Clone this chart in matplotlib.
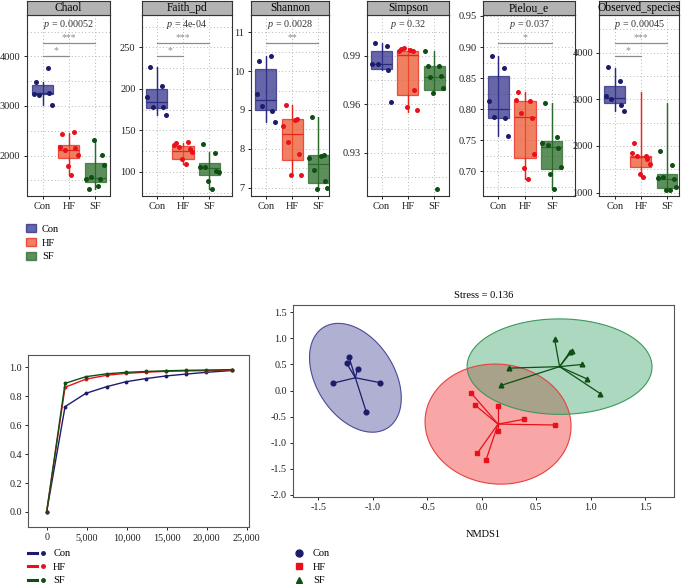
import numpy as np
import matplotlib
matplotlib.use("Agg")
import matplotlib.pyplot as plt
from matplotlib.lines import Line2D
from matplotlib.patches import Patch, Polygon
from matplotlib.legend_handler import HandlerTuple
from matplotlib.ticker import FuncFormatter

plt.rcParams['font.family'] = ['Liberation Serif', 'DejaVu Serif']
plt.rcParams['mathtext.fontset'] = 'custom'
plt.rcParams['mathtext.rm'] = 'Liberation Serif'
plt.rcParams['mathtext.it'] = 'Liberation Serif:italic'

# ---------------- data ----------------
groups = ["Con", "HF", "SF"]
metrics = ["Chaol", "Faith_pd", "Shannon", "Simpson", "Pielou_e", "Observed_species"]

# alpha diversity values per group (Con, HF, SF)
alpha_points = {
    "Chaol": [[3480, 3767, 3233, 3220, 3253, 3020],
              [2433, 2467, 2167, 2120, 2153, 2007, 1787, 1607],
              [1320, 1533, 1520, 1567, 2020, 1820, 2320, 1387]],
    "Faith_pd": [[226, 204, 190, 178, 178, 169],
                 [135, 136, 132, 130, 128, 124, 115, 109],
                 [134, 123, 106, 106, 101, 100, 89, 80]],
    "Shannon": [[10.27, 10.38, 9.42, 9.10, 8.97, 8.70],
                [9.12, 8.78, 8.60, 8.18, 7.87, 7.33, 7.33, 8.75],
                [8.82, 7.85, 7.76, 7.47, 7.18, 7.00, 6.96, 7.83]],
    "Simpson": [[0.9978, 0.9961, 0.9849, 0.9849, 0.9814, 0.9614],
                [0.9940, 0.9930, 0.9927, 0.9947, 0.9687, 0.9564, 0.9585, 0.9935],
                [0.9835, 0.9835, 0.9927, 0.9767, 0.9776, 0.9700, 0.9673, 0.9075]],
    "Pielou_e": [[0.885, 0.867, 0.813, 0.788, 0.785, 0.757],
                 [0.828, 0.813, 0.815, 0.794, 0.785, 0.727, 0.705, 0.688],
                 [0.810, 0.755, 0.745, 0.742, 0.737, 0.707, 0.695, 0.671]],
    "Observed_species": [[3680, 3396, 3060, 3000, 2880, 2751],
                         [2057, 1787, 1844, 1787, 1716, 1610, 1396, 1346],
                         [1886, 1587, 1317, 1338, 1303, 1125, 1068, 1054]],
}
# box statistics: q1, median, q3, lower whisker, upper whisker
box_stats = {
    "Chaol": [[3233, 3270, 3413, 3020, 3480], [1953, 2120, 2220, 1607, 2453], [1467, 1540, 1853, 1320, 2320]],
    "Faith_pd": [[177, 184.5, 200, 169, 226], [115, 125, 131, 109, 135], [96, 105, 111, 80, 124]],
    "Shannon": [[9.0, 9.25, 10.06, 8.7, 10.38], [7.71, 8.39, 8.76, 7.33, 9.12], [7.13, 7.61, 7.84, 6.96, 8.82]],
    "Simpson": [[0.9818, 0.9849, 0.993, 0.9814, 0.9978], [0.9658, 0.9906, 0.9927, 0.9555, 0.9947],
                [0.969, 0.977, 0.9835, 0.9673, 0.9927]],
    "Pielou_e": [[0.786, 0.80, 0.853, 0.757, 0.885], [0.721, 0.787, 0.813, 0.688, 0.828],
                 [0.703, 0.739, 0.748, 0.671, 0.81]],
    "Observed_species": [[2915, 3036, 3284, 2751, 3660], [1553, 1765, 1787, 1346, 3160],
                         [1110, 1303, 1409, 1054, 2920]],
}
p_labels = {"Chaol": "0.00052", "Faith_pd": "4e-04", "Shannon": "0.0028",
            "Simpson": "0.32", "Pielou_e": "0.037", "Observed_species": "0.00045"}
signif = {"Chaol": [(1, 3, "***"), (1, 2, "*")], "Faith_pd": [(1, 3, "***"), (1, 2, "*")],
          "Shannon": [(1, 3, "**")], "Simpson": [], "Pielou_e": [(1, 3, "*")],
          "Observed_species": [(1, 3, "***"), (1, 2, "*")]}
yticks = {"Chaol": [2000, 3000, 4000], "Faith_pd": [100, 150, 200, 250],
          "Shannon": [7, 8, 9, 10, 11], "Simpson": [0.93, 0.96, 0.99],
          "Pielou_e": [0.70, 0.75, 0.80, 0.85, 0.90, 0.95],
          "Observed_species": [1000, 2000, 3000, 4000]}

# coverage curves
depth = [0, 2300, 4900, 7500, 9900, 12400, 14900, 17400, 19900, 23200]
cov_con = [0, 0.728, 0.82, 0.866, 0.90, 0.922, 0.94, 0.953, 0.965, 0.978]
cov_hf = [0, 0.862, 0.918, 0.945, 0.958, 0.966, 0.972, 0.975, 0.977, 0.979]
cov_sf = [0, 0.889, 0.935, 0.955, 0.965, 0.971, 0.976, 0.979, 0.981, 0.984]

# NMDS scores
nmds_con_x = [-1.22, -1.24, -1.14, -1.37, -0.93, -1.06]
nmds_con_y = [0.65, 0.52, 0.42, 0.14, 0.15, -0.41]
nmds_hf_x = [-0.10, -0.06, 0.15, 0.39, 0.67, 0.15, -0.04, 0.04]
nmds_hf_y = [-0.04, -0.28, -0.30, -0.55, -0.66, -0.78, -1.20, -1.33]
nmds_sf_x = [0.67, 0.81, 0.83, 0.92, 0.97, 1.09, 0.25, 0.18]
nmds_sf_y = [0.98, 0.74, 0.76, 0.50, 0.22, -0.06, 0.43, 0.10]
stress = 0.136

# ---------------- style ----------------
dark = {"Con": "#1c1c6b", "HF": "#e8111b", "SF": "#0f4f14"}
box_face = {"Con": "#33338b", "HF": "#eb562d", "SF": "#266a26"}
box_edge = {"Con": "#2a2a80", "HF": "#e8251b", "SF": "#2b6a2b"}
ell_face = {"Con": "#3b3b8f", "HF": "#ee2222", "SF": "#2e9e5e"}
ell_edge = {"Con": "#4a4a9a", "HF": "#e84040", "SF": "#3a9a5a"}
jitter = [-0.25, 0.2, -0.35, -0.15, 0.25, 0.35, -0.05, 0.1]

W, H = 683, 584
fig = plt.figure(figsize=(W / 100, H / 100), dpi=100)


def px_axes(x0, y0, x1, y1):
    return fig.add_axes([x0 / W, 1 - y1 / H, (x1 - x0) / W, (y1 - y0) / H])


panel_x = {"Chaol": (26.7, 110, 0.39, 3.57), "Faith_pd": (141.7, 231.7, 0.43, 3.85),
           "Shannon": (250.7, 329.3, 0.42, 3.42), "Simpson": (366.7, 449.3, 0.43, 3.58),
           "Pielou_e": (483.3, 575, 0.43, 3.88), "Observed_species": (599.3, 679, 0.41, 3.46)}
panel_ylim = {"Chaol": (1187, 4833), "Faith_pd": (71, 289), "Shannon": (6.79, 11.44),
              "Simpson": (0.9034, 1.0152), "Pielou_e": (0.66, 0.9516),
              "Observed_species": (929, 4803)}
fmt = {"Simpson": "{:.2f}", "Pielou_e": "{:.2f}"}

grid_kw = dict(color="#b5b5b5", linewidth=0.7, linestyle=(0, (1, 2.5)), zorder=0)

for m in metrics:
    x0, x1, xl, xr = panel_x[m]
    ax = px_axes(x0, 15, x1, 196)
    strip = px_axes(x0, 0.5, x1, 15)
    strip.set_facecolor("#b3b3b3")
    strip.set_xticks([])
    strip.set_yticks([])
    for s in strip.spines.values():
        s.set_color("#333333")
        s.set_linewidth(0.8)
    strip.text(0.5, 0.45, m, ha="center", va="center", fontsize=8.3, transform=strip.transAxes)

    ax.set_xlim(xl, xr)
    ax.set_ylim(*panel_ylim[m])
    tk = yticks[m]
    step = tk[1] - tk[0]
    for v in np.arange(tk[0] - step, tk[-1] + step * 1.01, step / 2):
        ax.axhline(v, **grid_kw)
    for gx in (1, 2, 3):
        ax.axvline(gx, **grid_kw)

    for gi, g in enumerate(groups):
        pos = gi + 1
        q1, med, q3, lo, hi = box_stats[m][gi]
        ax.vlines(pos, lo, hi, color=box_edge[g], linewidth=0.9, zorder=2)
        ax.bxp([dict(med=med, q1=q1, q3=q3, whislo=lo, whishi=hi, fliers=[])],
               positions=[pos], widths=0.8, patch_artist=True, showcaps=False,
               boxprops=dict(facecolor=box_face[g], edgecolor=box_edge[g], alpha=0.75, linewidth=0.9),
               medianprops=dict(color=box_edge[g], linewidth=0.9),
               whiskerprops=dict(color=box_edge[g], linewidth=0.9), zorder=3)
        vals = alpha_points[m][gi]
        xs = [pos + jitter[k] for k in range(len(vals))]
        ax.scatter(xs, vals, s=13, color=dark[g], zorder=4, linewidths=0)

    ax.text((xl + xr) / 2, 0.945, r"$\it{p}$ = " + p_labels[m], transform=ax.get_xaxis_transform(),
            fontsize=7.3, ha="center", va="center", color="#333333")
    levels = [0.844, 0.775]
    for k, (a, b, lab) in enumerate(signif[m]):
        yl = levels[k]
        ax.plot([a, b], [yl, yl], transform=ax.get_xaxis_transform(), color="#8c8c8c",
                linewidth=0.9, zorder=5)
        ax.text((a + b) / 2, yl + 0.005, lab, transform=ax.get_xaxis_transform(),
                ha="center", va="bottom", fontsize=7, color="#8c8c8c")

    ax.set_xticks([1, 2, 3])
    ax.set_xticklabels(groups)
    ax.set_yticks(tk)
    f = fmt.get(m, "{:g}")
    ax.set_yticklabels([f.format(v) for v in tk])
    ax.tick_params(labelsize=7.5, length=2.5, width=0.7, pad=2, colors="#222222")
    for s in ax.spines.values():
        s.set_color("#333333")
        s.set_linewidth(0.8)

# legend for boxplots
box_handles = [Patch(facecolor=box_face[g], edgecolor=box_edge[g], alpha=0.75) for g in groups]
fig.legend(box_handles, groups, loc="upper left", bbox_to_anchor=(22 / W, 1 - 220 / H),
           frameon=False, fontsize=7.5, handlelength=0.9, handleheight=0.8,
           handletextpad=0.6, labelspacing=0.4, borderaxespad=0)

# ---------------- coverage curves ----------------
axc = px_axes(28, 355, 249, 527)
for g, vals in zip(groups, [cov_con, cov_hf, cov_sf]):
    axc.plot(depth, vals, color=dark[g], linewidth=1.0, marker="o", markersize=1.8)
axc.set_xlim(-2330, 25290)
axc.set_ylim(-0.104, 1.085)
axc.set_xticks([0, 5000, 10000, 15000, 20000, 25000])
axc.xaxis.set_major_formatter(FuncFormatter(lambda v, p: f"{int(v):,}"))
axc.set_yticks(np.arange(0, 1.01, 0.2))
axc.yaxis.set_major_formatter(FuncFormatter(lambda v, p: f"{v:.1f}"))
axc.tick_params(labelsize=7.3, length=2.5, width=0.7, pad=2, colors="#222222")
for s in axc.spines.values():
    s.set_color("#555555")
    s.set_linewidth(0.8)

line_handles = [(Line2D([], [], color=dark[g], linewidth=2.2),
                 Line2D([], [], color=dark[g], marker="o", markersize=2.5, linestyle="none"))
                for g in groups]
fig.legend(line_handles, groups, handler_map={tuple: HandlerTuple(ndivide=None, pad=0.2)},
           loc="upper left", bbox_to_anchor=(24 / W, 1 - 545 / H), frameon=False,
           fontsize=7.5, handlelength=1.8, handletextpad=0.6, labelspacing=0.4,
           borderaxespad=0)

# ---------------- NMDS ----------------
axn = px_axes(293, 305, 674, 497)
nmds = {"Con": (nmds_con_x, nmds_con_y, "o"), "HF": (nmds_hf_x, nmds_hf_y, "s"),
        "SF": (nmds_sf_x, nmds_sf_y, "^")}
level = 0.9
t = np.linspace(0, 2 * np.pi, 300)
for g in groups:
    xs, ys, mk = nmds[g]
    pts = np.column_stack([xs, ys])
    n = len(pts)
    centre = pts.mean(axis=0)
    cov = np.cov(pts, rowvar=False)
    d2 = n - 1
    fq = d2 / 2 * ((1 - level) ** (-2 / d2) - 1)
    radius = np.sqrt(2 * fq)
    chol = np.linalg.cholesky(cov)
    ring = centre + radius * (chol @ np.vstack([np.cos(t), np.sin(t)])).T
    axn.add_patch(Polygon(ring, closed=True, facecolor=ell_face[g], alpha=0.4,
                          edgecolor="none", zorder=1))
    axn.add_patch(Polygon(ring, closed=True, facecolor="none", edgecolor=ell_edge[g],
                          linewidth=0.8, zorder=2))
    for px, py in pts:
        axn.plot([centre[0], px], [centre[1], py], color=dark[g], linewidth=0.9, zorder=3)
    axn.plot(xs, ys, linestyle="none", marker=mk, markersize=3.4, color=dark[g], zorder=4)

axn.set_xlim(-1.733, 1.766)
axn.set_ylim(-2.04, 1.64)
axn.set_xticks(np.arange(-1.5, 1.51, 0.5))
axn.set_yticks(np.arange(-2.0, 1.51, 0.5))
axn.xaxis.set_major_formatter(FuncFormatter(lambda v, p: f"{v:.1f}"))
axn.yaxis.set_major_formatter(FuncFormatter(lambda v, p: f"{v:.1f}"))
axn.tick_params(labelsize=7.3, length=2.5, width=0.7, pad=2, colors="#222222")
for s in axn.spines.values():
    s.set_color("#555555")
    s.set_linewidth(0.8)
axn.set_title(f"Stress = {stress}", fontsize=7.5, pad=5)
axn.set_xlabel("NMDS1", fontsize=7.5, labelpad=13)

nmds_handles = [Line2D([], [], linestyle="none", marker=nmds[g][2], markersize=5, color=dark[g])
                for g in groups]
fig.legend(nmds_handles, groups, loc="upper left", bbox_to_anchor=(290 / W, 1 - 545 / H),
           frameon=False, fontsize=7.5, handlelength=1.0, handletextpad=0.8,
           labelspacing=0.4, borderaxespad=0)

fig.savefig("out.png", dpi=100)
